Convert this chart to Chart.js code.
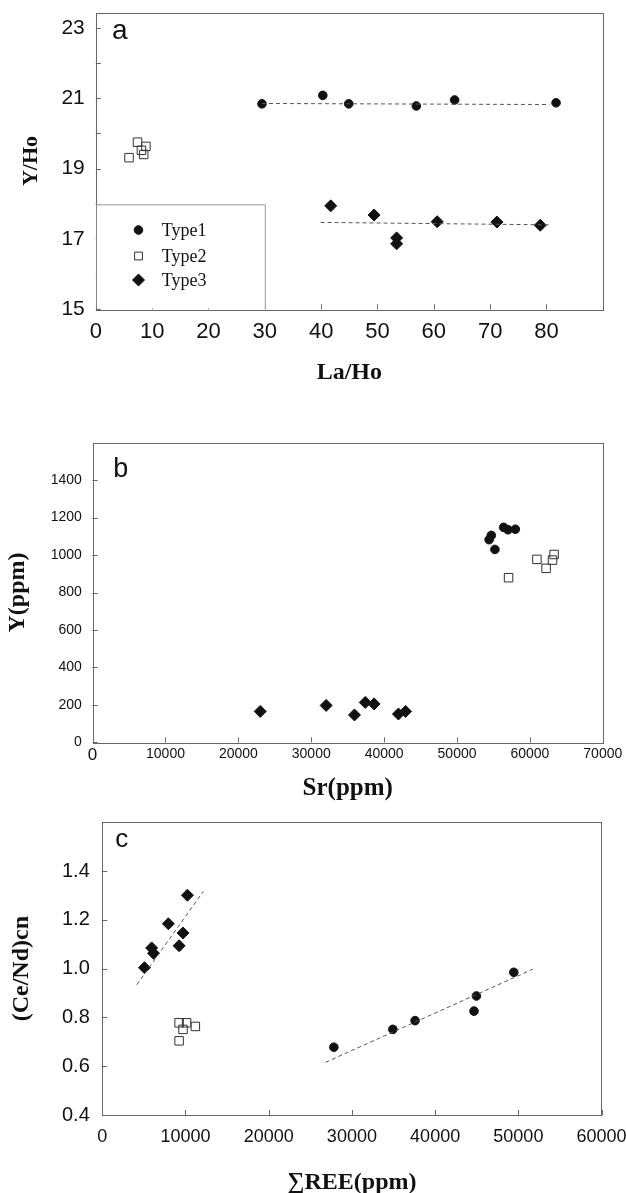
<!DOCTYPE html>
<html>
<head>
<meta charset="utf-8">
<script src="https://cdn.jsdelivr.net/npm/chart.js@4/dist/chart.umd.min.js"></script>
<style>
  html, body { margin: 0; padding: 0; background: #fff; }
  .panel { position: absolute; left: 0; width: 626px; }
</style>
</head>
<body>
<div class="panel" style="top:0;height:400px"><canvas id="chartA"></canvas></div>
<div class="panel" style="top:400px;height:410px"><canvas id="chartB"></canvas></div>
<div class="panel" style="top:800px;height:393px"><canvas id="chartC"></canvas></div>
<script>
// panel a: La/Ho vs Y/Ho
const laHoType1 = [29.5, 40.3, 44.9, 56.9, 63.7, 81.7];
const yHoType1 = [20.84, 21.08, 20.84, 20.78, 20.95, 20.87];
const laHoType2 = [5.9, 7.4, 8.1, 8.5, 8.9];
const yHoType2 = [19.31, 19.75, 19.52, 19.40, 19.63];
const laHoType3 = [41.7, 49.4, 53.4, 53.4, 60.6, 71.2, 78.9];
const yHoType3 = [17.94, 17.68, 17.03, 16.86, 17.49, 17.48, 17.39];
const laHoFit1 = [29.5, 80.5];
const yHoFit1 = [20.85, 20.82];
const laHoFit3 = [39.9, 80.9];
const yHoFit3 = [17.47, 17.40];

// panel b: Sr vs Y
const srType1 = [54400, 54700, 55200, 56400, 57000, 58000];
const yType1 = [1082, 1105, 1030, 1148, 1135, 1138];
const srType2 = [57070, 60960, 62220, 63100, 63320];
const yType2 = [879, 977, 929, 973, 1003];
const srType3 = [23000, 32040, 35930, 37410, 38620, 41960, 42940];
const yType3 = [165, 197, 146, 213, 205, 151, 165];

// panel c: sum REE vs (Ce/Nd)cn
const reeType1 = [27830, 34920, 37590, 44670, 44960, 49450];
const ceNdType1 = [0.678, 0.751, 0.787, 0.826, 0.888, 0.985];
const reeType2 = [9240, 10140, 9710, 11190, 9240];
const ceNdType2 = [0.778, 0.778, 0.751, 0.763, 0.704];
const reeType3 = [5080, 5940, 6170, 7950, 9240, 9710, 10240];
const ceNdType3 = [1.004, 1.085, 1.063, 1.184, 1.094, 1.146, 1.301];
const reeFit1 = [26830, 51750];
const ceNdFit1 = [0.616, 0.998];
const reeFit3 = [4160, 12150];
const ceNdFit3 = [0.934, 1.317];

const typeNames = ["Type1", "Type2", "Type3"];

const SANS = "'Liberation Sans', Arial, sans-serif";
const SERIF = "'Liberation Serif', 'Times New Roman', serif";
const INK = "#111";

function pts(xs, ys) {
  return xs.map((x, i) => ({ x: x, y: ys[i] }));
}

function markerSets(t1, t2, t3, fits) {
  const sets = [];
  fits.forEach((f) => {
    sets.push({
      type: "line",
      data: f,
      showLine: true,
      borderColor: "#555",
      borderWidth: 1,
      borderDash: [4, 3],
      pointRadius: 0,
      fill: false,
    });
  });
  sets.push({
    label: typeNames[0],
    data: t1,
    pointStyle: "circle",
    pointRadius: 4.3,
    backgroundColor: INK,
    borderColor: INK,
    borderWidth: 1,
  });
  sets.push({
    label: typeNames[1],
    data: t2,
    pointStyle: "rect",
    pointRadius: 6,
    backgroundColor: "rgba(0,0,0,0)",
    borderColor: "#333",
    borderWidth: 1,
  });
  sets.push({
    label: typeNames[2],
    data: t3,
    pointStyle: "rectRot",
    pointRadius: 6,
    backgroundColor: INK,
    borderColor: INK,
    borderWidth: 1,
  });
  return sets;
}

function fixAxis(size) {
  return function (scale) {
    if (scale.isHorizontal()) scale.height = size;
    else scale.width = size;
    scale.paddingLeft = 0;
    scale.paddingRight = 0;
    scale.paddingTop = 0;
    scale.paddingBottom = 0;
  };
}

function keepTicks(maxValue) {
  return function (scale) {
    scale.ticks = scale.ticks.filter((t) => t.value <= maxValue + 1e-9);
  };
}

// box, inward tick marks, panel letter and optional legend
const framePlugin = {
  id: "frame",
  afterDraw(chart, args, opts) {
    const ctx = chart.ctx;
    const ca = chart.chartArea;
    const len = 5;
    ctx.save();
    ctx.strokeStyle = "#666";
    ctx.lineWidth = 1;
    ctx.strokeRect(Math.round(ca.left) + 0.5, Math.round(ca.top) + 0.5,
      Math.round(ca.right - ca.left), Math.round(ca.bottom - ca.top));

    const xs = chart.scales.x;
    const ys = chart.scales.y;
    ctx.beginPath();
    xs.ticks.forEach((t) => {
      const p = Math.round(xs.getPixelForValue(t.value)) + 0.5;
      ctx.moveTo(p, ca.bottom);
      ctx.lineTo(p, ca.bottom - len);
    });
    ys.ticks.forEach((t) => {
      const p = Math.round(ys.getPixelForValue(t.value)) + 0.5;
      ctx.moveTo(ca.left, p);
      ctx.lineTo(ca.left + len, p);
    });
    ctx.stroke();

    ctx.fillStyle = INK;
    ctx.font = opts.letterSize + "px " + SANS;
    ctx.textAlign = "center";
    ctx.textBaseline = "middle";
    ctx.fillText(opts.letter, ca.left + opts.letterDx, ca.top + opts.letterDy);

    if (opts.legend) {
      const lg = opts.legend;
      ctx.fillStyle = "#fff";
      ctx.fillRect(ca.left + 1, lg.top, lg.width, ca.bottom - lg.top - 1);
      ctx.strokeStyle = "#999";
      ctx.beginPath();
      ctx.moveTo(ca.left, lg.top + 0.5);
      ctx.lineTo(ca.left + lg.width + 0.5, lg.top + 0.5);
      ctx.lineTo(ca.left + lg.width + 0.5, ca.bottom);
      ctx.stroke();

      const sets = chart.data.datasets.filter((d) => d.label);
      sets.forEach((d, i) => {
        const y = lg.rows[i];
        ctx.fillStyle = d.backgroundColor;
        ctx.strokeStyle = d.borderColor;
        ctx.lineWidth = 1;
        Chart.helpers.drawPoint(ctx, {
          pointStyle: d.pointStyle,
          radius: d.pointStyle === "circle" ? 4.3 : d.pointStyle === "rect" ? 5.5 : 6,
          rotation: 0,
          borderWidth: 1,
        }, lg.markerX, y);
        ctx.fillStyle = INK;
        ctx.font = "18px " + SERIF;
        ctx.textAlign = "left";
        ctx.textBaseline = "middle";
        ctx.fillText(d.label, lg.textX, y + 1);
      });
    }
    ctx.restore();
  },
};

function baseOptions(padding, frameOpts, xScale, yScale) {
  return {
    responsive: true,
    maintainAspectRatio: false,
    animation: false,
    events: [],
    layout: { padding: padding },
    plugins: {
      legend: { display: false },
      tooltip: { enabled: false },
      frame: frameOpts,
    },
    scales: { x: xScale, y: yScale },
  };
}

function axis(cfg) {
  return {
    type: "linear",
    min: cfg.min,
    max: cfg.max,
    grid: { display: false, drawTicks: false },
    border: { display: false },
    afterBuildTicks: keepTicks(cfg.last),
    afterFit: fixAxis(cfg.size),
    ticks: {
      stepSize: cfg.step,
      includeBounds: false,
      autoSkip: false,
      maxRotation: 0,
      minRotation: 0,
      padding: cfg.tickPad,
      color: INK,
      font: cfg.tickFont,
      callback: cfg.format,
    },
    title: {
      display: true,
      text: cfg.title,
      color: INK,
      font: { family: SERIF, weight: "bold", size: cfg.titleSize, lineHeight: cfg.titleLh || 1 },
      padding: cfg.titlePad,
    },
  };
}

// ---------- panel a ----------
new Chart(document.getElementById("chartA"), {
  type: "scatter",
  data: {
    datasets: markerSets(
      pts(laHoType1, yHoType1),
      pts(laHoType2, yHoType2),
      pts(laHoType3, yHoType3),
      [pts(laHoFit1, yHoFit1), pts(laHoFit3, yHoFit3)]
    ),
  },
  options: baseOptions(
    { top: 12.7, right: 23.2, bottom: 0, left: 0 },
    {
      letter: "a", letterSize: 28, letterDx: 24, letterDy: 18.6,
      legend: { top: 204.3, width: 169, markerX: 138.5, textX: 161.7, rows: [230, 256, 280] },
    },
    axis({
      min: 0, max: 90, last: 80, step: 10, size: 90.7, tickPad: 9,
      tickFont: { family: SANS, size: 22 },
      format: (v) => String(v),
      title: "La/Ho", titleSize: 24, titlePad: { top: 0, bottom: 15 },
    }),
    axis({
      min: 15, max: 23.43, last: 23, step: 1, size: 95.8, tickPad: 11,
      tickFont: { family: SANS, size: 21 },
      format: (v) => (Math.round(v) % 2 === 1 ? String(v) : ""),
      title: "Y/Ho", titleSize: 22, titlePad: { top: 20, bottom: 0 },
    })
  ),
  plugins: [framePlugin],
});

// ---------- panel b ----------
new Chart(document.getElementById("chartB"), {
  type: "scatter",
  data: {
    datasets: markerSets(
      pts(srType1, yType1),
      pts(srType2, yType2),
      pts(srType3, yType3),
      []
    ),
  },
  options: baseOptions(
    { top: 42.7, right: 23.2, bottom: 0, left: 0 },
    { letter: "b", letterSize: 27, letterDx: 28.2, letterDy: 26.6 },
    axis({
      min: 0, max: 70000, last: 70000, step: 10000, size: 67.7, tickPad: 3,
      tickFont: (c) => ({ family: SANS, size: c.tick && c.tick.value === 0 ? 17 : 14 }),
      format: (v) => String(v),
      title: "Sr(ppm)", titleSize: 25, titlePad: { top: 0, bottom: 8.5 },
    }),
    axis({
      min: 0, max: 1600, last: 1400, step: 200, size: 92.6, tickPad: 10.8,
      tickFont: { family: SANS, size: 14 },
      format: (v) => String(v),
      title: "Y(ppm)", titleSize: 24, titlePad: { top: 6, bottom: 0 },
    })
  ),
  plugins: [framePlugin],
});

// ---------- panel c ----------
new Chart(document.getElementById("chartC"), {
  type: "scatter",
  data: {
    datasets: markerSets(
      pts(reeType1, ceNdType1),
      pts(reeType2, ceNdType2),
      pts(reeType3, ceNdType3),
      [pts(reeFit1, ceNdFit1), pts(reeFit3, ceNdFit3)]
    ),
  },
  options: baseOptions(
    { top: 22.3, right: 24.4, bottom: 0, left: 0 },
    { letter: "c", letterSize: 26, letterDx: 19.6, letterDy: 18 },
    axis({
      min: 0, max: 60000, last: 60000, step: 10000, size: 78, tickPad: 11,
      tickFont: { family: SANS, size: 18 },
      format: (v) => String(v),
      title: "\u2211REE(ppm)", titleSize: 24, titleLh: 0.8, titlePad: { top: 0, bottom: 0.4 },
    }),
    axis({
      min: 0.4, max: 1.6, last: 1.4, step: 0.2, size: 102.2, tickPad: 12.4,
      tickFont: { family: SANS, size: 20 },
      format: (v) => v.toFixed(1),
      title: "(Ce/Nd)cn", titleSize: 24, titlePad: { top: 10, bottom: 0 },
    })
  ),
  plugins: [framePlugin],
});
</script>
</body>
</html>
